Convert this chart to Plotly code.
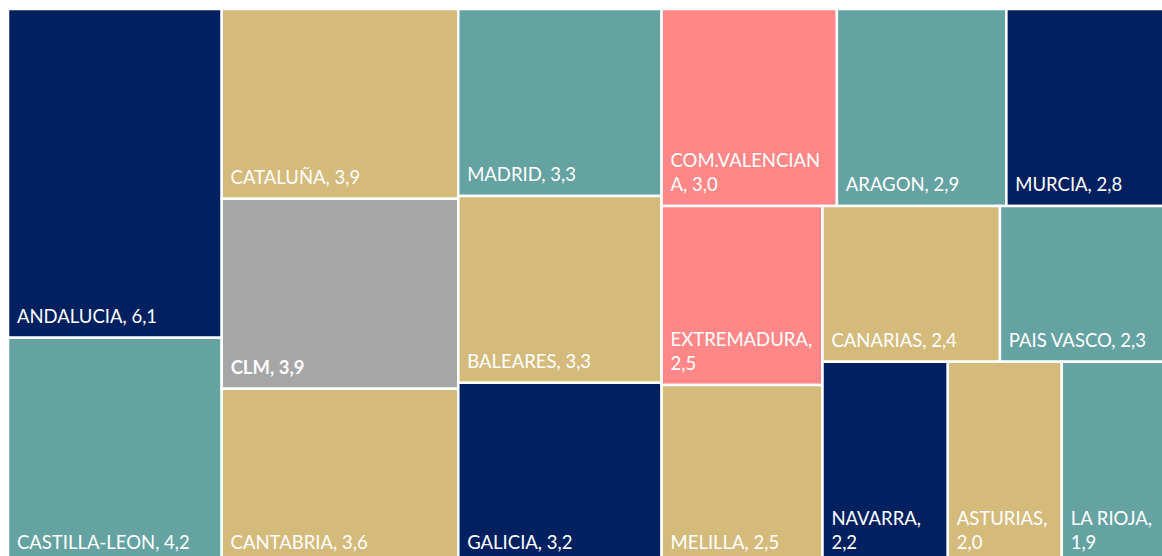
import plotly.graph_objects as go

regions = ["ANDALUCIA", "CASTILLA-LEON", "CATALUÑA", "CLM", "CANTABRIA", "MADRID",
           "BALEARES", "GALICIA", "COM.VALENCIANA", "ARAGON", "MURCIA", "EXTREMADURA",
           "MELILLA", "CANARIAS", "PAIS VASCO", "NAVARRA", "ASTURIAS", "LA RIOJA"]
values = [6.1, 4.2, 3.9, 3.9, 3.6, 3.3, 3.3, 3.2, 3.0, 2.9, 2.8, 2.5, 2.5, 2.4, 2.3, 2.2, 2.0, 1.9]
# displayed label split (as wrapped in the original)
label_lines = {"COM.VALENCIANA": ("COM.VALENCIAN", "A, "),
               "EXTREMADURA": ("EXTREMADURA,", ""),
               "NAVARRA": ("NAVARRA,", ""),
               "ASTURIAS": ("ASTURIAS,", ""),
               "LA RIOJA": ("LA RIOJA,", "")}

NAVY, TAN, TEAL, GRAY, SALMON = "#002060", "#D4BB7B", "#65A3A3", "#A6A6A6", "#FF8787"
color_map = {"ANDALUCIA": NAVY, "CASTILLA-LEON": TEAL, "CATALUÑA": TAN, "CLM": GRAY,
             "CANTABRIA": TAN, "MADRID": TEAL, "BALEARES": TAN, "GALICIA": NAVY,
             "COM.VALENCIANA": SALMON, "ARAGON": TEAL, "MURCIA": NAVY, "EXTREMADURA": SALMON,
             "MELILLA": TAN, "CANARIAS": TAN, "PAIS VASCO": TEAL, "NAVARRA": NAVY,
             "ASTURIAS": TAN, "LA RIOJA": TEAL}

def fmt(v):
    return f"{v:.1f}".replace(".", ",")

# invisible trailing spacer that lifts the label off the tile's bottom edge
SPACER = "<span style='baseline-shift:-8px'>\u00a0</span>"
INDENT = " \u200a"

texts = []
for r, v in zip(regions, values):
    if r in label_lines:
        a, b = label_lines[r]
        t = f"{a}<br>{INDENT}{b}{fmt(v)}"
    else:
        t = f"{r}, {fmt(v)}"
    if r == "CLM":
        t = f"<b>{t}</b>"
    texts.append(INDENT + t + SPACER)

fig = go.Figure(go.Treemap(
    labels=regions,
    parents=[""] * len(regions),
    values=values,
    text=texts,
    texttemplate="%{text}",
    textposition="bottom left",
    marker=dict(colors=[color_map[r] for r in regions],
                line=dict(color="white", width=2.5),
                pad=dict(t=0, l=0, r=0, b=0)),
    tiling=dict(packing="squarify", squarifyratio=1, pad=0),
    textfont=dict(family="Lato", size=18.5, color="white"),
    pathbar=dict(visible=False),
    sort=True,
    hoverinfo="label+value",
))
fig.update_layout(
    width=1170, height=566,
    margin=dict(l=8, r=0, t=9, b=2),
    paper_bgcolor="white",
)
fig.write_html(
    "out.html",
    config={"displayModeBar": False},
    post_script="document.body.style.margin='0';document.body.style.overflow='hidden';"
                "document.documentElement.style.overflow='hidden';",
)
